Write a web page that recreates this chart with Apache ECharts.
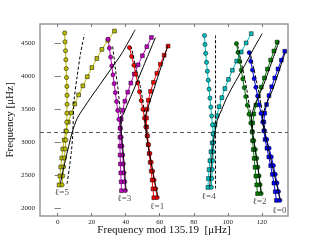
<!DOCTYPE html>
<html><head><meta charset="utf-8">
<script src="https://cdn.jsdelivr.net/npm/echarts@6/dist/echarts.min.js"></script>
<style>html,body{margin:0;padding:0;background:#fff}#c{width:320px;height:240px}</style>
</head><body><div id="c"></div>
<script>
// ---- axis ticks & reference ----
const xTicks = [0, 20, 40, 60, 80, 100, 120];
const yTicks = [2000, 2500, 3000, 3500, 4000, 4500];
const numax = 3150;

// ---- l=5 (yellow) ----
const l5cy = [2355, 2491, 2627, 2763, 2899, 3035, 3171, 3306, 3442, 3577, 3712, 3847, 3982, 4117, 4252, 4387, 4522, 4657];
const l5cx = [2.6, 3.0, 3.5, 4.0, 4.4, 4.8, 5.1, 5.3, 5.4, 5.5, 5.5, 5.4, 5.2, 5.0, 4.8, 4.6, 4.3, 4.1];
const l5sy = [2353, 2489, 2625, 2761, 2898, 3034, 3171, 3307, 3445, 3582, 3719, 3856, 3994, 4132, 4270, 4408, 4547, 4686];
const l5sx = [0.8, 1.3, 1.8, 2.4, 3.0, 3.8, 4.8, 6.2, 8.0, 10.0, 12.3, 14.8, 17.4, 20.1, 23.0, 26.0, 29.5, 33.4];
// ---- l=4 (cyan) ----
const l4cy = [2318, 2453, 2588, 2723, 2858, 2993, 3128, 3264, 3399, 3535, 3670, 3806, 3941, 4077, 4212, 4348, 4483, 4619];
const l4cx = [90.3, 90.6, 90.9, 91.2, 91.4, 91.5, 91.4, 91.0, 90.5, 90.0, 89.5, 89.0, 88.5, 88.0, 87.5, 87.0, 86.6, 86.3];
const l4sy = [2316, 2451, 2586, 2721, 2857, 2992, 3128, 3266, 3402, 3540, 3677, 3815, 3953, 4092, 4230, 4369, 4507, 4647];
const l4sx = [88.3, 88.6, 89.0, 89.5, 90.1, 90.8, 91.6, 92.5, 93.6, 94.9, 96.5, 98.3, 100.4, 102.7, 105.2, 107.9, 110.8, 113.8];
// ---- l=3 (magenta) ----
const l3cy = [2268, 2403, 2538, 2673, 2808, 2943, 3078, 3213, 3348, 3483, 3618, 3753, 3888, 4023, 4158, 4293, 4428, 4563];
const l3cx = [39.8, 39.4, 39.0, 38.6, 38.2, 37.8, 37.3, 36.7, 36.0, 35.3, 34.6, 33.9, 33.2, 32.5, 31.8, 31.1, 30.4, 29.6];
const l3sy = [2266, 2401, 2536, 2671, 2807, 2942, 3077, 3213, 3349, 3486, 3623, 3760, 3898, 4036, 4174, 4312, 4450, 4589];
const l3sx = [37.5, 37.3, 37.1, 36.9, 36.7, 36.6, 36.6, 36.8, 37.3, 38.2, 39.5, 41.2, 43.0, 45.0, 47.3, 49.8, 52.4, 55.1];
// ---- l=1 (red) ----
const l1cy = [2162, 2296, 2429, 2563, 2697, 2830, 2964, 3098, 3232, 3365, 3499, 3633, 3766, 3900, 4034, 4168, 4301, 4435];
const l1cx = [58.5, 57.6, 56.7, 55.8, 55.0, 54.2, 53.4, 52.6, 51.8, 51.0, 50.1, 49.1, 48.1, 47.0, 45.9, 44.8, 43.5, 42.2];
const l1sy = [2160, 2294, 2428, 2562, 2696, 2830, 2964, 3098, 3232, 3366, 3501, 3637, 3772, 3909, 4046, 4184, 4320, 4458];
const l1sx = [56.5, 56.0, 55.5, 55.0, 54.4, 53.8, 53.2, 52.7, 52.3, 52.2, 52.5, 53.3, 54.6, 56.3, 58.3, 60.4, 62.6, 64.9];
// ---- l=2 (green) ----
const l2cy = [2223, 2357, 2490, 2624, 2758, 2891, 3025, 3159, 3292, 3426, 3560, 3693, 3827, 3961, 4094, 4228, 4362, 4495];
const l2cx = [119.6, 119.0, 118.4, 117.7, 117.0, 116.2, 115.3, 114.4, 113.5, 112.5, 111.5, 110.6, 109.7, 108.8, 107.9, 107.0, 106.0, 105.1];
const l2sy = [2221, 2355, 2488, 2622, 2757, 2890, 3024, 3159, 3293, 3429, 3565, 3700, 3837, 3974, 4109, 4246, 4383, 4519];
const l2sx = [117.5, 117.0, 116.5, 116.0, 115.5, 115.0, 114.6, 114.4, 114.6, 115.3, 116.5, 118.0, 119.7, 121.5, 123.3, 125.2, 127.1, 129.0];
// ---- l=0 (blue) ----
const l0cy = [2121, 2253, 2384, 2516, 2648, 2779, 2911, 3043, 3174, 3306, 3438, 3569, 3701, 3833, 3964, 4096, 4228, 4359];
const l0cx = [130.6, 129.8, 128.9, 127.9, 126.8, 125.6, 124.3, 122.9, 121.6, 120.5, 119.5, 118.5, 117.5, 116.5, 115.5, 114.5, 113.5, 112.6];
const l0sy = [2119, 2251, 2382, 2514, 2646, 2778, 2910, 3042, 3174, 3307, 3440, 3573, 3708, 3842, 3976, 4111, 4246, 4380];
const l0sx = [128.6, 127.9, 127.1, 126.2, 125.2, 124.1, 123.0, 121.9, 121.2, 121.2, 121.7, 122.8, 124.2, 125.8, 127.6, 129.5, 131.5, 133.5];

// ---- model curves (black) ----
const s5x = [1.6, 4.5, 8.5, 11.4, 15.3, 19.5, 25, 31, 37.5, 45.5];
const s5y = [2380, 2727, 3147, 3359, 3520, 3680, 3880, 4100, 4340, 4705];
const d5x = [5.5, 6.8, 8.0, 8.8, 9.2, 9.6, 11.4, 13.4, 15.7];
const d5y = [2370, 2600, 2850, 3100, 3383, 3636, 3990, 4344, 4632];
const s4x = [89.4, 90.6, 91.8, 92.8, 93.8, 96.5, 99.6, 104.5, 109.8, 115, 120.2];
const s4y = [2323, 2750, 3050, 3200, 3333, 3500, 3687, 3920, 4160, 4410, 4647];
const d4x = [92.8, 92.8];
const d4y = [2300, 4625];
const s3x = [40.2, 39.1, 38.0, 37.3, 37.2, 38.5, 47.5, 57.5];
const s3y = [2268, 2650, 3000, 3200, 3333, 3420, 3970, 4590];
const d3x = [37.5, 36.8, 35.5, 34.0, 32.2];
const d3y = [3200, 3450, 3800, 4100, 4480];
const s1x = [59, 56, 53.5, 52, 51.2, 51.8, 58.3, 64.8];
const s1y = [2162, 2550, 2900, 3150, 3333, 3420, 3945, 4470];
const d1x = [52.5, 50.8, 48.5, 45.8, 43.3];
const d1y = [3150, 3500, 3850, 4150, 4440];
const s2x = [119.8, 117.5, 115.5, 114.3, 113.8, 122, 130.2];
const s2y = [2223, 2650, 3000, 3200, 3333, 3934, 4535];
const d2x = [115, 113, 110.5, 108, 105.6];
const d2y = [3150, 3500, 3900, 4200, 4500];
const s0x = [131, 127, 123.5, 121.3, 120.3, 127.2, 134];
const s0y = [2121, 2550, 2950, 3200, 3333, 3856, 4380];
const d0x = [122, 120, 117.5, 115, 113];
const d0y = [3150, 3500, 3850, 4150, 4370];

// ---- degree labels ----
const lblText = ['ℓ=5', 'ℓ=3', 'ℓ=1', 'ℓ=4', 'ℓ=2', 'ℓ=0'];
const lblX = [2.5, 39.2, 58.5, 88.8, 118.7, 130.4];
const lblY = [2242, 2151, 2020, 2182, 2095, 1970];

const pairs = (xs, ys) => xs.map((x, i) => [x, ys[i]]);
const SERIF = '"Liberation Serif","DejaVu Serif",serif';

const groups = [
  ['#bfbf00', l5cx, l5cy, l5sx, l5sy],
  ['#00bfbf', l4cx, l4cy, l4sx, l4sy],
  ['#bf00bf', l3cx, l3cy, l3sx, l3sy],
  ['#ff0000', l1cx, l1cy, l1sx, l1sy],
  ['#008000', l2cx, l2cy, l2sx, l2sy],
  ['#0000ff', l0cx, l0cy, l0sx, l0sy]
];
const series = [];
groups.forEach(([col, cx, cy, sx, sy]) => {
  [[sx, sy, 'rect', 3.8], [cx, cy, 'circle', 4.2]].forEach(([xs, ys, sym, sz]) => {
    series.push({
      type: 'line', data: pairs(xs, ys), symbol: sym, symbolSize: sz,
      showSymbol: true, animation: false, z: 3,
      lineStyle: { color: col, width: 1 },
      itemStyle: { color: col, borderColor: '#000', borderWidth: 0.5 }
    });
  });
});
const models = [
  [s5x, s5y, 'solid'], [d5x, d5y, 'dashed'], [s4x, s4y, 'solid'], [d4x, d4y, 'dashed'],
  [s3x, s3y, 'solid'], [d3x, d3y, 'dashed'], [s1x, s1y, 'solid'], [d1x, d1y, 'dashed'],
  [s2x, s2y, 'solid'], [d2x, d2y, 'dashed'], [s0x, s0y, 'solid'], [d0x, d0y, 'dashed']
];
models.forEach(([xs, ys, ty]) => {
  series.push({
    type: 'line', data: pairs(xs, ys), symbol: 'none', smooth: 0.3, animation: false, z: 4,
    lineStyle: { color: '#000', width: 1, type: ty === 'dashed' ? [3, 2] : 'solid' }
  });
});
series.push({
  type: 'scatter', data: pairs(lblX, lblY), symbolSize: 0, animation: false, z: 5,
  label: {
    show: true, position: 'inside', color: '#222', fontFamily: SERIF, fontSize: 9,
    formatter: p => lblText[p.dataIndex]
  }
});
series.push({
  type: 'line', data: [], animation: false,
  markLine: {
    silent: true, symbol: 'none', label: { show: false }, animation: false,
    lineStyle: { color: '#333', width: 0.8, type: [4, 3] },
    data: [{ yAxis: numax }]
  }
});

const XMIN = -10.4, XMAX = 135.4, YMIN = 1883, YMAX = 4793;
const tickStyle = { show: true, inside: true, length: 3, lineStyle: { color: '#777', width: 1 } };
const fmt = v => String(v);
const chart = echarts.init(document.getElementById('c'), null, { renderer: 'canvas' });
chart.setOption({
  animation: false,
  grid: { left: 40, right: 32, top: 24, bottom: 24, containLabel: false, outerBoundsMode: 'none',
          show: true, borderColor: '#999', borderWidth: 1.5 },
  xAxis: [{
    type: 'value', min: XMIN, max: XMAX, position: 'bottom',
    name: 'Frequency mod 135.19  [μHz]', nameLocation: 'middle', nameGap: 14, nameMoveOverlap: false,
    nameTextStyle: { fontFamily: SERIF, fontSize: 11, color: '#111', verticalAlign: 'middle' },
    axisLine: { show: false }, splitLine: { show: false },
    axisTick: Object.assign({ customValues: xTicks }, tickStyle),
    axisLabel: { customValues: xTicks, formatter: fmt, fontFamily: SERIF, fontSize: 7, color: '#222', margin: 3 }
  }, {
    type: 'value', min: XMIN, max: XMAX, position: 'top',
    axisLine: { show: false }, splitLine: { show: false },
    axisTick: Object.assign({ customValues: xTicks }, tickStyle),
    axisLabel: { show: false, customValues: xTicks }
  }],
  yAxis: [{
    type: 'value', min: YMIN, max: YMAX, position: 'left',
    name: 'Frequency [μHz]', nameLocation: 'middle', nameGap: 30, nameRotate: 90, nameMoveOverlap: false,
    nameTextStyle: { fontFamily: SERIF, fontSize: 11, color: '#111', verticalAlign: 'middle' },
    axisLine: { show: false }, splitLine: { show: false },
    axisTick: Object.assign({ customValues: yTicks }, tickStyle),
    axisLabel: { customValues: yTicks, formatter: fmt, fontFamily: SERIF, fontSize: 7, color: '#222', margin: 5 }
  }, {
    type: 'value', min: YMIN, max: YMAX, position: 'right',
    axisLine: { show: false }, splitLine: { show: false },
    axisTick: Object.assign({ customValues: yTicks }, tickStyle),
    axisLabel: { show: false, customValues: yTicks }
  }],
  series: series
});
</script></body></html>
